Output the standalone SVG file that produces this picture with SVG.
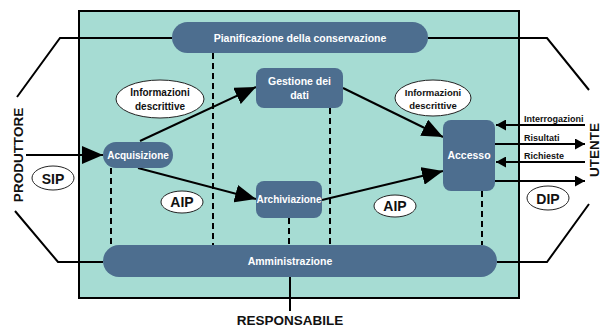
<svg xmlns="http://www.w3.org/2000/svg" width="602" height="328" viewBox="0 0 602 328">
<defs>
<style>
.node{fill:#4d6e8f;}
.nt{fill:#ffffff;font-family:"Liberation Sans",Arial,sans-serif;font-weight:bold;font-size:10.5px;text-anchor:middle;}
.ell{fill:#ffffff;stroke:#222;stroke-width:1;}
.et{fill:#111;font-family:"Liberation Sans",Arial,sans-serif;font-weight:bold;font-size:10px;text-anchor:middle;}
.pk{fill:#111;font-family:"Liberation Sans",Arial,sans-serif;font-weight:bold;font-size:14px;text-anchor:middle;}
.lbl{fill:#111;font-family:"Liberation Sans",Arial,sans-serif;font-weight:bold;font-size:9px;}
.side{fill:#111;font-family:"Liberation Sans",Arial,sans-serif;font-weight:bold;font-size:13.5px;text-anchor:middle;}
.ln{fill:none;stroke:#000;stroke-width:2;}
.dash{fill:none;stroke:#000;stroke-width:2;stroke-dasharray:6,4;}
.big{marker-end:url(#big);}
.sm{marker-end:url(#sm);}
</style>
<marker id="big" markerUnits="userSpaceOnUse" markerWidth="22" markerHeight="18" refX="21" refY="9" orient="auto">
<path d="M0,0 L21,9 L0,18 z" fill="#000"/>
</marker>
<marker id="sm" markerUnits="userSpaceOnUse" markerWidth="11" markerHeight="11" refX="10" refY="5.5" orient="auto">
<path d="M0,0 L10,5.5 L0,11 z" fill="#000"/>
</marker>
</defs>
<rect x="0" y="0" width="602" height="328" fill="#ffffff"/>
<rect id="archive" x="79" y="11" width="440" height="287" fill="#a6dcd3" stroke="#000" stroke-width="2"/>

<g id="connectors">
<polyline class="ln" points="172,38 60,38 17,97"/>
<polyline class="ln" points="428,38 547,38 589,90"/>
<polyline class="ln" points="103,262 58,262 15,211"/>
<polyline class="ln" points="497,262 547,262 589,204"/>
<line class="ln" x1="290" y1="277" x2="290" y2="311"/>
<line class="dash" x1="213" y1="53" x2="213" y2="245"/>
<line class="dash" x1="111" y1="168" x2="111" y2="245"/>
<line class="dash" x1="330" y1="108" x2="330" y2="245"/>
<line class="dash" x1="289" y1="218" x2="289" y2="245"/>
<line class="dash" x1="482" y1="191" x2="482" y2="245"/>
<line class="ln big" x1="26" y1="155" x2="103" y2="155"/>
<line class="ln big" x1="140" y1="141" x2="256" y2="87"/>
<line class="ln big" x1="138" y1="168" x2="256" y2="199"/>
<line class="ln big" x1="343" y1="88" x2="443" y2="137"/>
<line class="ln big" x1="322" y1="200" x2="443" y2="171"/>
<line class="ln sm" x1="585" y1="125" x2="496" y2="125"/>
<line class="ln sm" x1="495" y1="144" x2="585" y2="144"/>
<line class="ln sm" x1="585" y1="162" x2="496" y2="162"/>
<line class="ln sm" x1="495" y1="181" x2="585" y2="181"/>
</g>

<g id="pianificazione">
<rect class="node" x="172" y="22" width="256" height="31" rx="15.5"/>
<text class="nt" x="300" y="42">Pianificazione della conservazione</text>
</g>
<g id="gestione">
<rect class="node" x="256" y="68" width="87" height="40" rx="8"/>
<text class="nt" x="299.5" y="85">Gestione dei</text>
<text class="nt" x="299.5" y="99">dati</text>
</g>
<g id="acquisizione">
<rect class="node" x="103" y="142" width="70" height="26" rx="13"/>
<text class="nt" x="138" y="159" style="font-size:10px">Acquisizione</text>
</g>
<g id="archiviazione">
<rect class="node" x="256" y="181" width="66" height="37" rx="8"/>
<text class="nt" x="289" y="203" style="font-size:10px">Archiviazione</text>
</g>
<g id="accesso">
<rect class="node" x="443" y="120" width="52" height="71" rx="8"/>
<text class="nt" x="469" y="159">Accesso</text>
</g>
<g id="amministrazione">
<rect class="node" x="103" y="245" width="394" height="32" rx="16"/>
<text class="nt" x="290" y="265">Amministrazione</text>
</g>

<g id="info-left">
<ellipse class="ell" cx="160" cy="99" rx="44" ry="19"/>
<text class="et" x="160" y="96">Informazioni</text>
<text class="et" x="160" y="110">descrittive</text>
</g>
<g id="info-right">
<ellipse class="ell" cx="433" cy="98" rx="38" ry="18"/>
<text class="et" x="433" y="96" style="font-size:9.5px">Informazioni</text>
<text class="et" x="433" y="109" style="font-size:9.5px">descrittive</text>
</g>
<g id="sip">
<ellipse class="ell" cx="53" cy="178" rx="21" ry="12"/>
<text class="pk" x="53" y="184">SIP</text>
</g>
<g id="aip-left">
<ellipse class="ell" cx="182" cy="202" rx="21" ry="11"/>
<text class="pk" x="182" y="207">AIP</text>
</g>
<g id="aip-right">
<ellipse class="ell" cx="395" cy="206" rx="21" ry="11"/>
<text class="pk" x="395" y="211">AIP</text>
</g>
<g id="dip">
<ellipse class="ell" cx="548" cy="198" rx="21" ry="12"/>
<text class="pk" x="548" y="204">DIP</text>
</g>

<g id="labels">
<text class="lbl" x="524" y="122">Interrogazioni</text>
<text class="lbl" x="524" y="141">Risultati</text>
<text class="lbl" x="524" y="159">Richieste</text>
<text class="side" transform="translate(23,155) rotate(-90)">PRODUTTORE</text>
<text class="side" transform="translate(599,150) rotate(-90)">UTENTE</text>
<text class="side" x="290" y="325">RESPONSABILE</text>
</g>
</svg>
